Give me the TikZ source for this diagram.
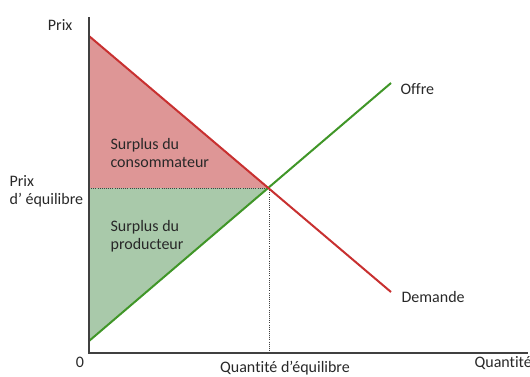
\documentclass[tikz,border=0pt]{standalone}
\usepackage{fontspec}
\setmainfont[RawFeature={-liga;-clig;-dlig;-calt}]{Carlito}
\usetikzlibrary{positioning}

\definecolor{demcol}{RGB}{200,48,48}
\definecolor{offcol}{RGB}{64,150,40}
\definecolor{consfill}{RGB}{222,150,150}
\definecolor{prodfill}{RGB}{169,201,170}
\definecolor{axiscol}{RGB}{64,64,64}
\definecolor{txtcol}{RGB}{40,40,40}

\begin{document}
\begin{tikzpicture}[x=0.75pt,y=-0.75pt,
		font=\fontsize{12}{13.5}\selectfont,
		lbl/.style={text=txtcol, inner sep=1pt},
		axe/.style={draw=axiscol, line width=1.3pt},
		courbe/.style={line width=1.5pt},
		repere/.style={draw=axiscol, densely dotted, line width=0.6pt}]
		\useasboundingbox (0,0) rectangle (530,376);
		% points of the graph
		\coordinate (O) at (89,353);
		\coordinate (ytop) at (89,17);
		\coordinate (xend) at (528,353);
		\coordinate (d0) at (89,36);
		\coordinate (d1) at (391,292);
		\coordinate (s0) at (89,341);
		\coordinate (s1) at (391,83);
		\coordinate (eq) at (269,188);
		\coordinate (peq) at (89,188);
		\coordinate (qeq) at (269,353);
		
		% surplus areas
		\fill[consfill] (d0) -- (eq) -- (peq) -- cycle;
		\fill[prodfill] (peq) -- (eq) -- (s0) -- cycle;
		\draw[repere] (peq) -- (eq);
		\draw[repere] (eq) -- (qeq);
		
		% supply and demand
		\draw[courbe, offcol] (s0) -- (s1);
		\draw[courbe, demcol] (d0) -- (d1);
		
		% axes
		\draw[axe] (ytop) -- (O) -- (xend);
		
		% labels
		\node[lbl, anchor=east] (prix) at (74,25) {Prix};
		\node[lbl, anchor=west, align=left] (prixeq) at (8,191) {Prix\\d’ équilibre};
		\node[lbl] (zero) at (80,362) {0};
		\node[lbl] (qeqlbl) at (285,368) {Quantité d’équilibre};
		\node[lbl, anchor=west] (qte) at (473,363) {Quantité};
		\node[lbl, anchor=west] (offre) at (399,89) {Offre};
		\node[lbl, anchor=west] (demande) at (400,297) {Demande};
		\node[lbl, anchor=west, align=left] (cons) at (109,153) {Surplus du\\consommateur};
		\node[lbl, anchor=west, align=left] (prod) at (109,236) {Surplus du\\producteur};
	\end{tikzpicture}
\end{document}
